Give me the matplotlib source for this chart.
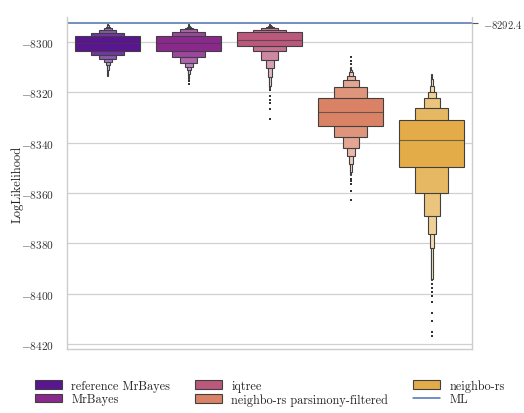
import numpy as np
import matplotlib
matplotlib.use("Agg")
import matplotlib.pyplot as plt
import matplotlib.colors as mcolors
from matplotlib.patches import Patch
from matplotlib.lines import Line2D
import seaborn as sns

# ---------------- data ----------------
categories = ["reference MrBayes", "MrBayes", "iqtree",
              "neighbo-rs parsimony-filtered", "neighbo-rs"]

# letter-value boxes, from the widest (innermost) level outward
ref_lower = [-8303.5, -8305.1, -8306.7, -8308.0, -8309.1, -8311.0, -8313.3]
ref_upper = [-8297.7, -8296.3, -8295.3, -8294.5, -8294.1, -8293.3, -8292.6]
mb_lower = [-8303.6, -8305.8, -8308.4, -8309.7, -8310.9, -8312.6, -8314.6]
mb_upper = [-8297.5, -8296.1, -8294.9, -8294.4, -8294.0, -8293.7, -8292.6]
iq_lower = [-8301.4, -8303.4, -8307.0, -8310.4, -8313.7, -8317.3, -8318.2]
iq_upper = [-8296.1, -8295.0, -8294.2, -8293.8, -8293.5, -8293.0, -8292.6]
pf_lower = [-8333.4, -8337.8, -8342.1, -8345.4, -8348.4, -8351.5, -8353.0]
pf_upper = [-8322.2, -8317.9, -8315.2, -8313.6, -8312.0, -8311.1, -8310.0]
nr_lower = [-8349.5, -8360.0, -8369.0, -8376.3, -8382.0, -8394.0, -8394.5]
nr_upper = [-8330.9, -8326.3, -8322.2, -8319.7, -8317.5, -8314.5, -8312.6]

medians = [-8300.5, -8300.5, -8299.0, -8327.6, -8339.0]

ref_outliers = []
mb_outliers = [-8315.6, -8316.5]
iq_outliers = [-8319.2, -8321.3, -8323.2, -8324.2, -8326.4, -8330.5]
pf_outliers = [-8306.0, -8307.4, -8308.7, -8354.4, -8355.1, -8356.6,
               -8359.0, -8362.6]
nr_outliers = [-8396.1, -8397.9, -8399.4, -8401.0, -8403.3, -8407.6,
               -8410.7, -8415.2, -8416.8]

ml_value = -8292.4

lowers = [ref_lower, mb_lower, iq_lower, pf_lower, nr_lower]
uppers = [ref_upper, mb_upper, iq_upper, pf_upper, nr_upper]
outliers = [ref_outliers, mb_outliers, iq_outliers, pf_outliers, nr_outliers]

# ---------------- style ----------------
sns.set_theme(style="whitegrid")
plt.rcParams["font.family"] = ["cmr10", "DejaVu Serif"]
plt.rcParams["mathtext.fontset"] = "cm"
plt.rcParams["axes.formatter.use_mathtext"] = True
plt.rcParams["axes.unicode_minus"] = True

base_colors = [sns.desaturate(c, 0.75) for c in sns.color_palette("plasma", 5)]
edge = "#404040"

fig = plt.figure(figsize=(5.24, 4.14), dpi=100)
ax = fig.add_axes([0.128, 0.1546, 0.773, 0.802])

full_width = 0.8
for i, (lo, hi, col) in enumerate(zip(lowers, uppers, base_colors)):
    n = len(lo)
    # draw narrow (outer) levels first so wider ones sit on top
    for j in reversed(range(n)):
        t = j / n
        c = np.array(mcolors.to_rgb(col)) * (1 - t) + t
        w = full_width / (2 ** j)
        ax.bar(i, hi[j] - lo[j], bottom=lo[j], width=w, color=c,
               edgecolor=edge, linewidth=0.8, zorder=2 + (n - j) * 0.01)
    ax.plot([i - full_width / 2, i + full_width / 2], [medians[i]] * 2,
            color=edge, lw=0.8, alpha=0.7, zorder=3)
    if outliers[i]:
        ax.plot([i] * len(outliers[i]), outliers[i], linestyle="none",
                marker="s", ms=1.6, color="#333333", mew=0, zorder=3)

ax.axhline(ml_value, color="#4c72b0", lw=1.1, zorder=1.5)

ax.set_xlim(-0.5, len(categories) - 0.5)
ax.set_ylim(-8422, -8290)
ax.set_yticks([-8300, -8320, -8340, -8360, -8380, -8400, -8420])
ax.set_xticks([])
ax.grid(axis="x", visible=False)
ax.grid(axis="y", color="#d0d0d0", lw=0.9)
ax.tick_params(axis="y", labelsize=8.2, length=0, pad=9, colors="#333333")
ax.set_ylabel("LogLikelihood", fontsize=9, color="#222222")
ax.yaxis.set_label_coords(-0.108, 0.5)
for s in ["left", "right", "bottom"]:
    ax.spines[s].set_color("#cccccc")
    ax.spines[s].set_linewidth(1.0)
ax.spines["top"].set_visible(False)

ax2 = ax.twinx()
ax2.set_ylim(ax.get_ylim())
ax2.set_yticks([ml_value])
ax2.set_yticklabels([r"$-8292.4$"])
ax2.grid(False)
ax2.tick_params(axis="y", labelsize=7.6, length=4, width=0.8,
                color="#555555", labelcolor="#333333", pad=4)
for s in ax2.spines.values():
    s.set_visible(False)

handles = [Patch(facecolor=c, edgecolor=edge, linewidth=0.8) for c in base_colors]
handles.append(Line2D([0], [0], color="#4c72b0", lw=1.1))
labels = categories + ["ML"]
ax.legend(handles, labels, loc="upper center", bbox_to_anchor=(0.5, -0.058),
          ncol=3, frameon=False, fontsize=8.8, handlelength=2.2,
          columnspacing=2.0, labelspacing=0.12, handletextpad=0.8)

fig.savefig("out.png", dpi=100)
